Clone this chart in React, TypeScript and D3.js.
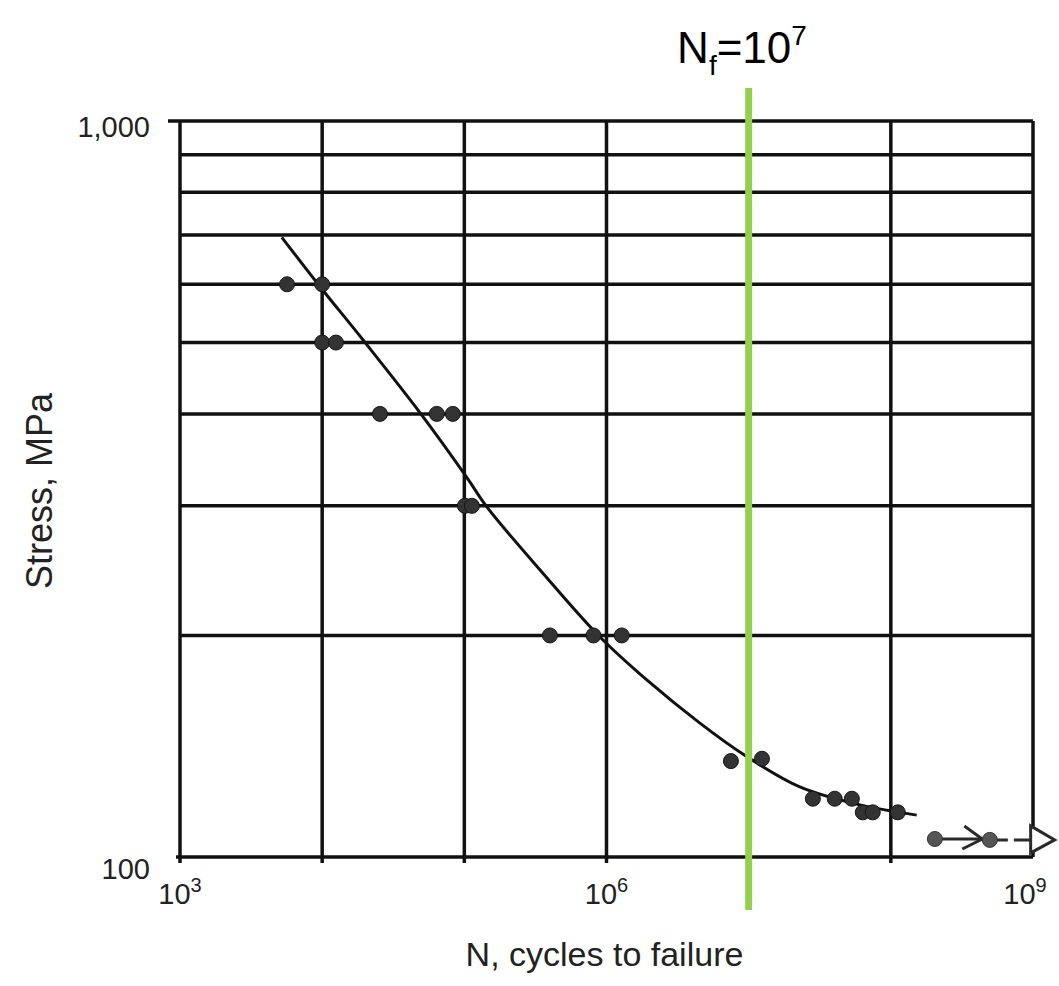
import React from 'react'
import * as d3 from 'd3'

// S-N data
const pointN = [5.66e3, 1e4, 1e4, 1.25e4, 2.55e4, 6.4e4, 8.3e4, 1.01e5, 1.13e5, 4e5, 8.1e5, 1.28e6, 7.5e6, 1.24e7, 2.83e7, 4.03e7, 5.32e7, 6.35e7, 7.46e7, 1.12e8]
const pointS = [600, 600, 500, 500, 400, 400, 400, 300, 300, 200, 200, 200, 135, 136, 120, 120, 120, 115, 115, 115]

// fitted curve
const curveN = [5.2e3, 9.7e3, 1.94e4, 4.9e4, 1.04e5, 1.44e5, 3.57e5, 9e5, 1.92e6, 4.54e6, 9.1e6, 2.29e7, 6.06e7, 1.52e8]
const curveS = [695, 595, 504, 401, 328, 299, 243, 199, 174, 152, 138, 124.5, 117.7, 114]

// run-outs (no failure) with arrows
const runoutN = [2.04e8, 4.97e8]
const runoutS = [105.8, 105.5]
const runoutTo = [4.4e8, 1.42e9]

const yGrid = [200, 300, 400, 500, 600, 700, 800, 900]
const xGrid = [1e4, 1e5, 1e6, 1e7, 1e8]
const xTickValues = [1e3, 1e6, 1e9]
const xTickExps = ['3', '6', '9']
const yTickValues = [1000, 100]
const yTickLabels = ['1,000', '100']
const limitN = 1e7

export default function App() {
  const width = 1059
  const height = 986
  const margin = { top: 121, right: 26, bottom: 129, left: 180 }

  const x = d3.scaleLog().domain([1e3, 1e9]).range([margin.left, width - margin.right])
  const y = d3.scaleLog().domain([100, 1000]).range([height - margin.bottom, margin.top])
  const x0 = x(1e3), x1 = x(1e9), y0 = y(100), y1 = y(1000)

  const line = d3.line<[number, number]>()
    .x(d => x(d[0]))
    .y(d => y(d[1]))
    .curve(d3.curveCatmullRom)
  const curvePts = curveN.map((n, i) => [n, curveS[i]] as [number, number])

  const font = 'Liberation Sans, Arial, Helvetica, sans-serif'
  const ink = '#111'

  return (
    <div style={{ position: 'absolute', left: 0, top: 0 }}>
      <svg width={width} height={height} style={{ display: 'block', background: '#fff' }}>
        {/* horizontal grid */}
        {yGrid.map(v => (
          <line key={'h' + v} x1={x0} x2={x1} y1={y(v)} y2={y(v)} stroke={ink} strokeWidth={3.5} />
        ))}
        {/* vertical grid */}
        {xGrid.map(v => (
          <line key={'v' + v} x1={x(v)} x2={x(v)} y1={y1} y2={y0 + 6} stroke={ink} strokeWidth={3.5} />
        ))}
        {/* frame */}
        <line x1={x0 - 12} x2={x1} y1={y1} y2={y1} stroke={ink} strokeWidth={3.5} />
        <line x1={x0 - 4} x2={x1} y1={y0} y2={y0} stroke={ink} strokeWidth={3.5} />
        <line x1={x0} x2={x0} y1={y1} y2={y0 + 6} stroke={ink} strokeWidth={3.5} />
        <line x1={x1} x2={x1} y1={y1} y2={y0} stroke={ink} strokeWidth={3.5} />

        {/* fitted curve */}
        <path d={line(curvePts) || ''} fill="none" stroke={ink} strokeWidth={3} />

        {/* data points */}
        {pointN.map((n, i) => (
          <circle key={'p' + i} cx={x(n)} cy={y(pointS[i])} r={7.5} fill="#333" stroke="#151515" strokeWidth={1} />
        ))}

        {/* run-outs */}
        {runoutN.map((n, i) => {
          const sx = x(n), sy = y(runoutS[i]), ex = x(runoutTo[i])
          return (
            <g key={'r' + i}>
              <line x1={sx} x2={ex - 2} y1={sy} y2={sy} stroke="#2a2a2a" strokeWidth={3}
                strokeDasharray={i === 1 ? '18 6' : undefined} />
              {i === 0 ? (
                <path d={`M${ex - 18},${sy - 13} L${ex},${sy} L${ex - 20},${sy + 10}`} fill="none" stroke="#2a2a2a" strokeWidth={3} />
              ) : (
                <path d={`M${ex - 24},${sy - 14} L${ex},${sy} L${ex - 24},${sy + 13} Z`} fill="#fff" stroke="#2a2a2a" strokeWidth={3} />
              )}
              <circle cx={sx} cy={sy} r={7.5} fill="#555" stroke="#333" strokeWidth={1} />
            </g>
          )
        })}

        {/* y tick labels */}
        {yTickValues.map((v, i) => (
          <text key={'yt' + v} x={150} y={y(v) + (i === 0 ? 16 : 22)} textAnchor="end"
            fontFamily={font} fontSize={29} fill="#222">{yTickLabels[i]}</text>
        ))}
        {/* x tick labels */}
        {xTickValues.map((v, i) => (
          <text key={'xt' + v} x={x(v) + (i === 2 ? -8 : 0)} y={y0 + 47} textAnchor="middle"
            fontFamily={font} fontSize={29} fill="#222">
            10<tspan fontSize={20} dy={-12}>{xTickExps[i]}</tspan>
          </text>
        ))}

        {/* axis titles */}
        <text x={(x0 + x1) / 2 - 2} y={966} textAnchor="middle" fontFamily={font} fontSize={34} fill="#222">
          N, cycles to failure
        </text>
        <text transform={`translate(52,${(y0 + y1) / 2 + 2}) rotate(-90)`} textAnchor="middle"
          fontFamily={font} fontSize={36} fill="#222">
          Stress, MPa
        </text>

        {/* endurance limit marker */}
        <line x1={x(limitN)} x2={x(limitN)} y1={88} y2={910} stroke="#92D050" strokeWidth={7} />
        <text x={742} y={63} textAnchor="middle" fontFamily={font} fontSize={44} fill="#000">
          N<tspan fontSize={28} dy={12}>f</tspan><tspan dy={-12}>=10</tspan><tspan fontSize={28} dy={-18}>7</tspan>
        </text>
      </svg>
    </div>
  )
}
